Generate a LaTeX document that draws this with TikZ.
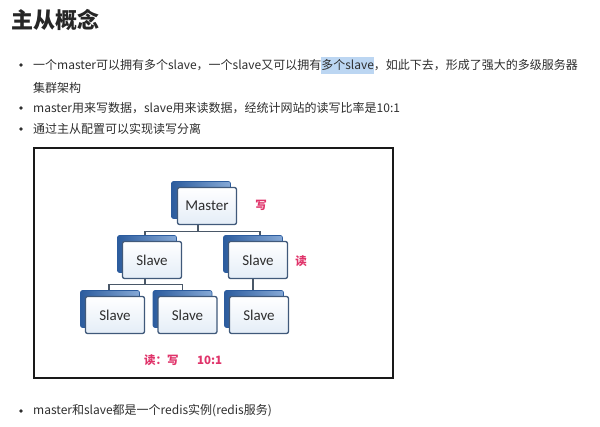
\documentclass[tikz,border=0pt]{standalone}
\usepackage{fontspec}
\setmainfont{Noto Sans CJK SC}
\newfontfamily\boxfont{Carlito}
\definecolor{txt}{HTML}{2E2E2E}
\definecolor{hl}{HTML}{BCD6F2}
\definecolor{redlab}{HTML}{E0336A}
\definecolor{edgec}{HTML}{40597A}
\definecolor{backdark}{HTML}{2C5C9E}
\definecolor{backlight}{HTML}{86A9D6}
\definecolor{frontbot}{HTML}{E4EDF7}
\definecolor{connc}{HTML}{4A5868}
\newcommand\hlbox[1]{\setbox0\hbox{#1}\rlap{\smash{\color{hl}\rule[-4.5pt]{\wd0}{17pt}}}\box0}
\tikzset{
  txtnode/.style={anchor=west,inner sep=0pt,text=txt,font=\fontsize{12}{14}\selectfont},
  bulletdot/.style={circle,fill=txt,inner sep=0pt,minimum size=3.6pt},
  backbox/.style={minimum width=59pt,minimum height=37pt,inner sep=0pt,rounded corners=2pt,
    left color=backdark,right color=backlight,draw=backdark,line width=0.6pt},
  frontbox/.style={minimum width=59pt,minimum height=37pt,inner sep=0pt,rounded corners=2pt,
    top color=white,bottom color=frontbot,draw=edgec,line width=1.3pt,
    font=\boxfont\fontsize{15}{18}\selectfont,text=txt},
  conn/.style={draw=connc,line width=1.3pt},
  redtxt/.style={inner sep=0pt,text=redlab,font=\bfseries\fontsize{11.5}{14}\selectfont}
}
\begin{document}
\begin{tikzpicture}[x=1pt,y=-1pt]
\useasboundingbox[fill=white] (0,0) rectangle (600,427);
% title
\node[anchor=west,inner sep=0pt,text=black!85,font=\bfseries\fontsize{22}{26}\selectfont] (title) at (11,20) {主从概念};
% bullets
\node[bulletdot] (b1) at (21,65) {};
\node[txtnode] (t1) at (33,65) {一个master可以拥有多个slave，一个slave又可以拥有\hlbox{多个slave}，如此下去，形成了强大的多级服务器};
\node[txtnode] (t1b) at (33,88) {集群架构};
\node[bulletdot] (b2) at (21,108) {};
\node[txtnode] (t2) at (33,108) {master用来写数据，slave用来读数据，经统计网站的读写比率是10:1};
\node[bulletdot] (b3) at (21,129) {};
\node[txtnode] (t3) at (33,129) {通过主从配置可以实现读写分离};
% frame
\draw[draw=black!90,line width=2.6pt] (34,148) rectangle (393,378);
% boxes
\node[backbox] (mb) at (201,200) {};
\node[frontbox] (m) at (207,206) {Master};
\node[backbox] (l1b) at (147,254) {};
\node[frontbox] (l1) at (152,260) {Slave};
\node[backbox] (r1b) at (253,254) {};
\node[frontbox] (r1) at (258,260) {Slave};
\node[backbox] (blb) at (110,309) {};
\node[frontbox] (bl) at (115,315) {Slave};
\node[backbox] (bmb) at (182.5,309) {};
\node[frontbox] (bm) at (187.5,315) {Slave};
\node[backbox] (brb) at (254,309) {};
\node[frontbox] (br) at (259,315) {Slave};
% connectors
\draw[conn] ([xshift=-9pt]m.south) -- ++(0,6.5) coordinate (j1);
\draw[conn] (j1) -| ([xshift=-2pt]l1b.north);
\draw[conn] (j1) -| ([xshift=7pt]r1b.north);
\draw[conn] ([xshift=-7pt]l1.south) -- ++(0,5.5) coordinate (j2);
\draw[conn] (j2) -| ([xshift=-1pt]blb.north);
\draw[conn] (j2) -| (bmb.north);
\draw[conn] ([xshift=-5pt]r1.south) -- ([xshift=-1pt]brb.north);
% red labels
\node[redtxt] (w) at (261,205) {写};
\node[redtxt] (r) at (301,261) {读};
\node[redtxt,anchor=west] (ratio1) at (144,360) {读：写};
\node[redtxt,anchor=west] (ratio2) at (197,360) {10:1};
% last bullet
\node[bulletdot] (b4) at (21,411) {};
\node[txtnode] (t4) at (33,411) {master和slave都是一个redis实例(redis服务)};
\end{tikzpicture}
\end{document}
